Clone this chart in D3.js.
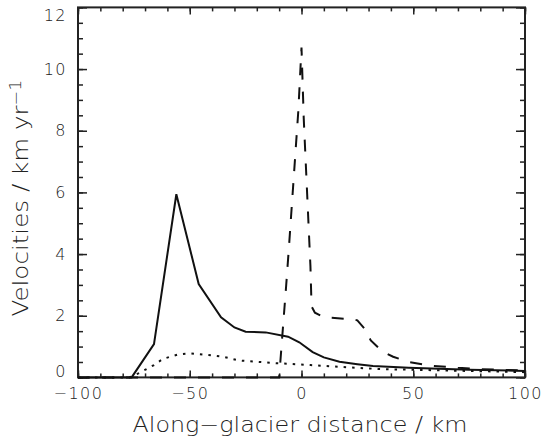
<!doctype html>
<html>
  <head>
    <meta charset="utf-8">
    <script src="https://d3js.org/d3.v7.min.js" type="text/JavaScript"></script>
    <style>
      body { margin: 0; background: white; }
      text { font-family: "DejaVu Sans", "Liberation Sans", sans-serif;
             font-weight: 200;
             fill: #222; }
    </style>
  </head>
  <body>
    <div id="chart"></div>
    <script>
      // values (distance in km, velocity in km/yr)
      var solidX = [-100, -76, -66, -56, -46, -36, -30, -25, -16, -6, -1, 5, 10, 17, 25, 32, 48, 75, 100];
      var solidY = [0, 0, 1.08, 5.94, 3.03, 1.95, 1.62, 1.48, 1.46, 1.32, 1.14, 0.82, 0.65, 0.51, 0.43, 0.37, 0.31, 0.25, 0.21];

      var dashX = [-100, -10, -8.9, -6.9, -5.6, -1.4, 0, 1, 4, 4.5, 6, 10, 20, 25, 28, 31, 36, 41, 48, 58, 70, 80, 100];
      var dashY = [0, 0, 1.05, 2.94, 4.24, 8.67, 10.7, 8.4, 3.6, 2.3, 2.1, 1.95, 1.9, 1.85, 1.6, 1.2, 0.85, 0.67, 0.5, 0.38, 0.31, 0.27, 0.22];

      var dotX = [-100, -77, -73, -66, -62, -55, -50, -42, -35, -28, -11, 4, 20, 35, 48, 100];
      var dotY = [0, 0, 0.13, 0.4, 0.6, 0.75, 0.78, 0.73, 0.67, 0.55, 0.46, 0.4, 0.33, 0.27, 0.25, 0.17];

      var xTicks = [-100, -50, 0, 50, 100];
      var yTicks = [0, 2, 4, 6, 8, 10, 12];

      var width = 542, height = 437;
      var plotL = 78, plotR = 525, plotT = 7.4, plotB = 377.4;

      var svg = d3.select("#chart").append("svg")
        .attr("width", width)
        .attr("height", height);

      var x = d3.scaleLinear().domain([-100, 100]).range([plotL, plotR]);
      var y = d3.scaleLinear().domain([0, 12]).range([plotB, plotT]);

      var zip = function(xs, ys) { return xs.map(function(v, i) { return [v, ys[i]]; }); };
      var line = d3.line().x(function(d) { return x(d[0]); }).y(function(d) { return y(d[1]); });

      // minor ticks
      var xMinor = d3.range(-100, 101, 10), yMinor = d3.range(0, 12.01, 0.5);
      function axisGroup(axis, tx, ty) {
        var g = svg.append("g").attr("transform", "translate(" + tx + "," + ty + ")").call(axis);
        g.select(".domain").remove();
        g.selectAll("line").attr("stroke", "#222").attr("stroke-width", 1.5);
        return g;
      }
      axisGroup(d3.axisBottom(x).tickValues(xMinor).tickSize(-4).tickFormat(""), 0, plotB);
      axisGroup(d3.axisTop(x).tickValues(xMinor).tickSize(-4).tickFormat(""), 0, plotT);
      axisGroup(d3.axisLeft(y).tickValues(yMinor).tickSize(-5).tickFormat(""), plotL, 0);
      axisGroup(d3.axisRight(y).tickValues(yMinor).tickSize(-5).tickFormat(""), plotR, 0);

      // major ticks + labels
      var xa = axisGroup(d3.axisBottom(x).tickValues(xTicks).tickSize(-7).tickPadding(10.5), 0, plotB);
      xa.selectAll("text").style("font-size", "16px").attr("letter-spacing", "1.5px");
      axisGroup(d3.axisTop(x).tickValues(xTicks).tickSize(-7).tickFormat(""), 0, plotT);
      var ya = axisGroup(d3.axisLeft(y).tickValues(yTicks).tickSize(-9).tickPadding(11), plotL, 0);
      ya.selectAll("text").style("font-size", "16px").attr("letter-spacing", "1.5px")
        .attr("y", function(d) { return d === 0 ? -6 : (d === 12 ? 8 : 0); });
      axisGroup(d3.axisRight(y).tickValues(yTicks).tickSize(-9).tickFormat(""), plotR, 0);

      svg.append("rect")
        .attr("x", plotL).attr("y", plotT)
        .attr("width", plotR - plotL).attr("height", plotB - plotT)
        .attr("fill", "none").attr("stroke", "#222").attr("stroke-width", 2);

      // curves
      svg.append("path").datum(zip(solidX, solidY))
        .attr("d", line).attr("fill", "none").attr("stroke", "#111").attr("stroke-width", 2);
      svg.append("path").datum(zip(dashX, dashY))
        .attr("d", line).attr("fill", "none").attr("stroke", "#111").attr("stroke-width", 2)
        .attr("stroke-dasharray", "12,12");
      svg.append("path").datum(zip(dotX, dotY))
        .attr("d", line).attr("fill", "none").attr("stroke", "#111").attr("stroke-width", 2)
        .attr("stroke-dasharray", "2.5,6");

      // titles
      svg.append("text")
        .attr("x", 300).attr("y", 432)
        .attr("text-anchor", "middle")
        .attr("textLength", 335).attr("lengthAdjust", "spacingAndGlyphs")
        .style("font-size", "22px")
        .text("Along\u2212glacier distance / km");

      var yt = svg.append("text")
        .attr("transform", "translate(28,198) rotate(-90)")
        .attr("text-anchor", "middle")
        .attr("textLength", 237).attr("lengthAdjust", "spacingAndGlyphs")
        .style("font-size", "21px");
      yt.append("tspan").text("Velocities / km yr");
      yt.append("tspan").attr("dy", "-0.45em").style("font-size", "15px").text("\u22121");
    </script>
  </body>
</html>
